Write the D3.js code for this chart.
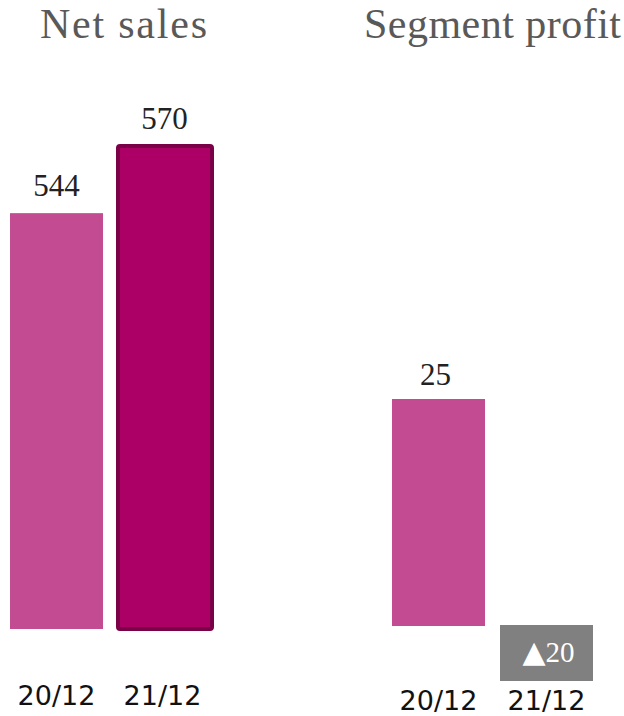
<!DOCTYPE html>
<html><head><meta charset="utf-8">
<script src="https://cdn.jsdelivr.net/npm/d3@7"></script>
<style>html,body{margin:0;padding:0;background:#fff;}svg{display:block;}</style>
</head><body>
<script>
const periods = ["20/12", "21/12"];
const netSales = [544, 570];
const segmentProfit = [25, -20];
const titles = ["Net sales", "Segment profit"];

const W = 624, H = 716;
const svg = d3.select("body").append("svg").attr("width", W).attr("height", H);

const serif = "'Liberation Serif','DejaVu Serif',serif";
const sans = "'DejaVu Sans',Verdana,sans-serif";
const colLight = "#c24b91", colDark = "#ad0066", colDarkStroke = "#7a0048", grey = "#808080";

// Net sales panel
const x1 = d3.scaleBand().domain(periods).range([10, 209]).paddingInner(13 / 106).paddingOuter(0);
const y1 = d3.scaleLinear().domain([383, 570]).range([629, 146]);

svg.append("text").attr("x", 40).attr("y", 38)
  .attr("font-family", serif).attr("font-size", 42).attr("fill", "#595959")
  .attr("textLength", 167).attr("lengthAdjust", "spacing").text(titles[0]);

periods.forEach((p, i) => {
  const v = netSales[i];
  const bx = x1(p), bw = x1.bandwidth();
  if (i === 0) {
    svg.append("rect").attr("x", bx).attr("y", y1(v)).attr("width", bw).attr("height", y1.range()[0] - y1(v)).attr("fill", colLight);
  } else {
    svg.append("rect").attr("x", bx + 2).attr("y", y1(v)).attr("width", bw + 1).attr("height", y1.range()[0] - y1(v))
      .attr("fill", colDark).attr("stroke", colDarkStroke).attr("stroke-width", 4).attr("rx", 2);
  }
  svg.append("text").attr("x", bx + bw / 2 + (i ? 2 : 0)).attr("y", y1(v) - 17).attr("text-anchor", "middle")
    .attr("font-family", serif).attr("font-size", 31).attr("fill", "#222").text(v);
  svg.append("text").attr("x", bx + bw / 2).attr("y", 705).attr("text-anchor", "middle")
    .attr("font-family", sans).attr("font-size", 27).attr("fill", "#111").text(p);
});

// Segment profit panel
const x2 = d3.scaleBand().domain(periods).range([392, 593]).paddingInner(15 / 108).paddingOuter(0);
const y2 = d3.scaleLinear().domain([0, 25]).range([626, 399]);

svg.append("text").attr("x", 364).attr("y", 38)
  .attr("font-family", serif).attr("font-size", 42).attr("fill", "#595959")
  .attr("textLength", 257).attr("lengthAdjust", "spacing").text(titles[1]);

periods.forEach((p, i) => {
  const v = segmentProfit[i];
  const bx = x2(p), bw = x2.bandwidth();
  if (v >= 0) {
    svg.append("rect").attr("x", bx).attr("y", y2(v)).attr("width", bw).attr("height", y2(0) - y2(v)).attr("fill", colLight);
    svg.append("text").attr("x", bx + bw / 2 - 3).attr("y", y2(v) - 14).attr("text-anchor", "middle")
      .attr("font-family", serif).attr("font-size", 31).attr("fill", "#222").text(v);
  } else {
    svg.append("rect").attr("x", bx).attr("y", y2(0) - 1).attr("width", bw).attr("height", 56).attr("fill", grey);
    const t = svg.append("text").attr("x", bx + bw / 2 + 2).attr("y", y2(0) + 36).attr("text-anchor", "middle")
      .attr("fill", "#fff");
    t.append("tspan").attr("font-family", sans).attr("font-size", 30).text("▲");
    t.append("tspan").attr("font-family", serif).attr("font-size", 29).text(Math.abs(v));
  }
  svg.append("text").attr("x", bx + bw / 2).attr("y", 710).attr("text-anchor", "middle")
    .attr("font-family", sans).attr("font-size", 27).attr("fill", "#111").text(p);
});
</script>
</body></html>
